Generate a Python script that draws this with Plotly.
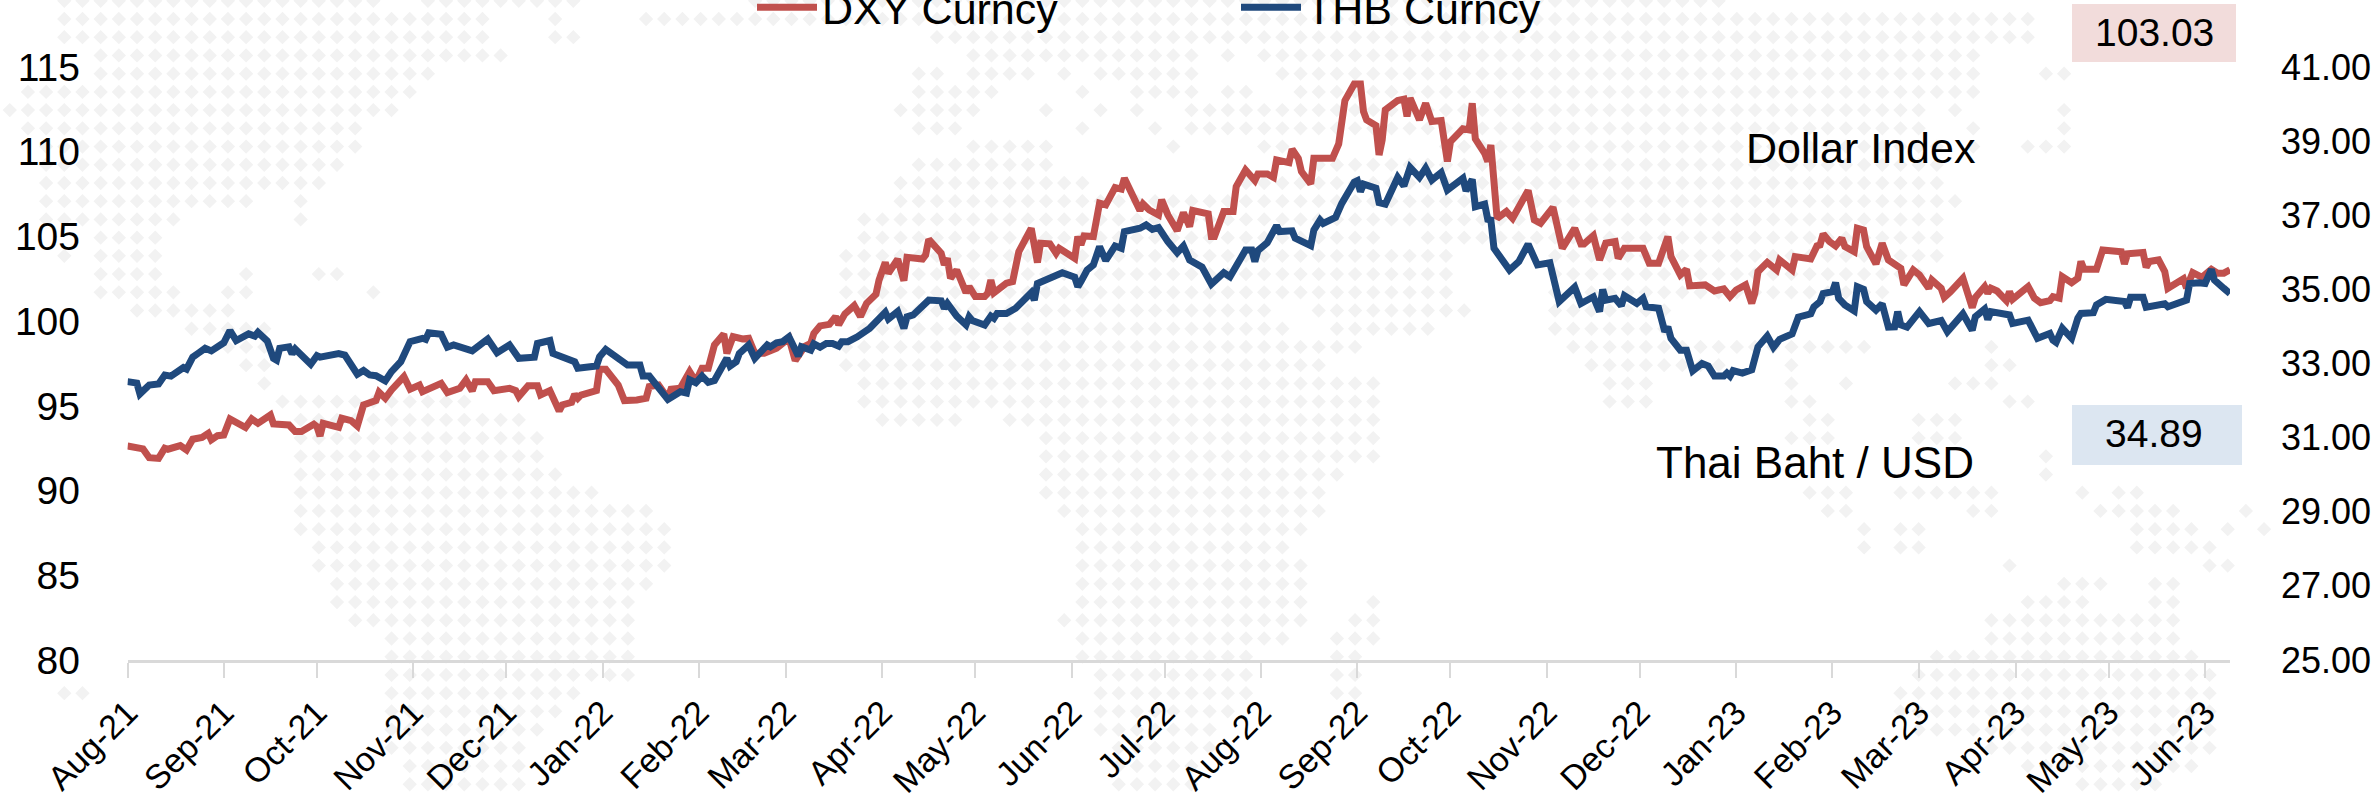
import datetime as dt
import plotly.graph_objects as go

START = dt.date(2021, 8, 1)

tick_labels = ["Aug-21","Sep-21","Oct-21","Nov-21","Dec-21","Jan-22","Feb-22","Mar-22","Apr-22","May-22","Jun-22","Jul-22",
               "Aug-22","Sep-22","Oct-22","Nov-22","Dec-22","Jan-23","Feb-23","Mar-23","Apr-23","May-23","Jun-23"]
tick_dates = ["2021-08-01","2021-09-01","2021-10-01","2021-11-01","2021-12-01","2022-01-01","2022-02-01","2022-03-01",
              "2022-04-01","2022-05-01","2022-06-01","2022-07-01","2022-08-01","2022-09-01","2022-10-01","2022-11-01",
              "2022-12-01","2023-01-01","2023-02-01","2023-03-01","2023-04-01","2023-05-01","2023-06-01"]

dxy_days = [0,5,7,10,12,13,17,19,21,24,26,27,29,31,33,38,40,42,46,47,52,54,56,60,61,62,63,66,68,69,72,74,76,80,81,83,85,89,91,94,95,
            101,103,107,109,111,112,116,118,123,125,126,129,132,133,136,139,140,143,144,145,146,151,152,154,158,160,164,
            167,168,171,174,175,178,181,183,185,187,189,192,193,195,198,200,202,205,209,213,215,218,220,221,223,226,228,229,231,234,236,238,241,242,244,245,248,250,251,256,257,258,260,262,263,264,265,267,270,271,273,276,277,278,279,283,285,287,291,293,294,297,299,300,305,306,307,308,311,313,315,318,320,321,326,327,329,332,333,
            335,338,340,342,343,348,349,350,353,356,357,360,363,364,367,369,370,374,375,377,378,381,382,388,390,392,395,397,398,399,402,403,404,405,409,411,412,413,416,418,420,423,425,426,430,432,433,434,437,438,439,441,444,446,451,453,455,459,462,466,468,469,472,474,476,479,480,482,488,490,493,496,497,500,
            502,503,508,511,514,516,518,521,523,524,525,528,531,532,536,537,542,544,545,546,548,550,552,553,556,557,559,560,563,565,567,571,572,575,577,580,581,584,585,587,591,594,595,598,599,600,602,605,606,607,612,614,616,619,620,622,623,626,628,629,630,634,636,642,643,644,649,650,651,654,656,657,662,663,665,668,671,673,675,677]
dxy_values = [92.63,92.46,91.94,91.90,92.50,92.44,92.65,92.40,93.03,93.14,93.38,92.99,93.24,93.28,94.23,93.72,94.23,93.97,94.46,93.93,93.87,93.48,93.48,93.91,93.77,93.22,93.97,93.77,93.73,94.27,94.13,93.81,95.05,95.31,95.80,95.45,95.94,96.73,95.98,96.23,95.84,
              96.33,95.78,96.04,96.53,95.88,96.43,96.43,95.90,96.04,95.90,95.55,96.19,96.19,95.64,95.90,94.70,95.05,95.21,95.68,95.45,95.64,95.90,97.16,97.16,96.23,95.31,95.35,
              95.45,96.14,96.23,95.45,95.98,96.04,97.02,96.43,97.22,97.22,98.60,99.24,98.10,99.09,98.95,98.99,98.10,98.10,98.40,98.99,97.67,98.50,98.69,99.28,99.72,99.81,100.27,99.78,100.43,100.92,100.27,101.05,101.59,102.43,103.46,102.83,103.65,102.39,103.77,103.67,103.91,104.83,104.40,104.01,103.32,103.71,102.53,103.02,101.68,102.04,101.45,101.45,101.65,102.43,101.68,102.24,102.33,104.10,105.48,103.46,104.60,104.56,104.01,104.30,103.71,104.99,104.50,105.03,104.99,106.96,106.86,107.88,107.79,108.43,106.53,106.92,106.56,106.27,107.16,
              106.27,105.34,106.41,105.58,106.53,106.33,104.99,104.99,106.47,106.47,107.94,108.92,108.30,108.69,108.69,108.49,109.52,109.36,110.15,109.61,108.83,108.10,109.61,109.61,110.46,113.02,114.00,114.00,112.37,111.88,111.54,109.81,110.70,112.47,113.02,113.10,112.08,113.16,111.88,112.86,111.78,111.84,109.42,110.60,111.35,111.29,112.86,110.76,109.91,109.42,110.40,106.07,106.47,106.07,107.71,105.97,105.78,106.72,104.30,105.48,104.56,104.56,105.05,103.61,104.60,104.70,103.71,104.30,104.30,103.42,103.42,104.99,103.81,102.73,
              103.06,102.08,102.14,101.78,101.90,101.45,101.84,102.14,101.05,101.65,102.92,103.47,103.02,103.61,103.02,103.81,103.67,104.44,104.50,105.15,104.70,104.44,104.89,104.40,104.10,105.48,105.38,104.40,103.38,104.60,103.61,103.12,102.14,103.02,102.73,101.94,102.43,101.94,101.41,101.74,102.53,100.80,101.40,102.04,101.65,101.94,101.78,101.21,101.74,101.29,102.04,101.36,101.09,101.21,101.45,101.36,102.63,102.27,102.53,103.52,103.06,103.06,104.20,104.10,103.38,103.97,104.05,103.18,103.52,103.61,102.92,101.94,102.50,101.95,102.87,102.59,103.06,102.83,102.83,103.03]

thb_days = [0,3,4,7,10,12,14,18,19,21,23,25,27,31,33,35,39,41,42,45,47,48,49,52,53,54,59,61,62,68,70,74,76,78,80,83,85,88,91,95,96,97,101,103,105,109,111,116,119,123,126,131,132,136,137,144,145,151,152,154,158,161,165,
            166,168,174,178,180,181,183,185,187,189,193,194,196,197,200,202,206,207,209,211,213,216,217,220,221,223,225,227,229,230,232,235,236,239,244,245,248,249,250,251,253,258,262,263,264,267,270,271,272,276,278,279,280,283,286,291,292,293,298,301,305,306,307,309,311,313,315,318,320,321,326,328,330,332,
            335,338,340,342,346,349,353,355,360,362,363,364,367,370,371,375,376,381,382,384,385,389,391,395,396,397,398,402,403,405,409,411,413,416,418,420,423,425,430,431,433,434,437,438,439,440,445,448,451,454,458,461,466,468,472,474,475,476,479,481,482,486,488,489,493,495,496,497,500,
            502,504,507,509,511,514,515,516,517,520,523,525,528,530,532,536,538,542,543,545,546,549,550,551,553,556,557,559,560,563,565,567,569,570,571,573,577,580,584,586,591,594,595,598,599,600,606,607,612,615,619,620,621,623,626,628,629,633,634,637,643,644,645,649,650,656,657,663,664,667,669,671,672,675,677]
thb_values = [32.51,32.47,32.18,32.42,32.45,32.69,32.66,32.89,32.85,33.17,33.29,33.41,33.34,33.56,33.89,33.62,33.80,33.74,33.84,33.61,33.14,33.09,33.41,33.45,33.26,33.39,32.98,33.21,33.17,33.27,33.23,32.71,32.81,32.69,32.67,32.53,32.78,33.05,33.59,33.68,33.65,33.83,33.79,33.44,33.50,33.38,33.34,33.66,33.29,33.50,33.14,33.17,33.54,33.62,33.27,33.05,32.87,32.93,33.18,33.38,33.14,32.96,32.96,
              32.66,32.66,32.03,32.24,32.20,32.56,32.48,32.66,32.49,32.54,33.14,32.93,33.05,33.27,33.50,33.14,33.50,33.45,33.56,33.59,33.72,33.20,33.45,33.36,33.53,33.44,33.54,33.54,33.47,33.59,33.59,33.72,33.77,33.95,34.38,34.20,34.40,34.22,33.95,34.26,34.31,34.71,34.69,34.49,34.62,34.28,34.04,34.26,34.16,34.04,34.28,34.22,34.35,34.35,34.49,34.91,34.71,35.16,35.33,35.45,35.33,35.07,35.21,35.52,35.66,36.15,35.78,36.17,36.11,36.56,36.65,36.74,36.62,36.67,
              36.29,35.99,36.17,35.79,35.60,35.14,35.45,35.34,36.06,36.06,35.75,36.05,36.26,36.72,36.56,36.58,36.38,36.18,36.60,36.87,36.78,36.94,37.32,37.89,37.93,37.64,37.84,37.73,37.34,37.30,38.02,37.79,38.29,38.02,38.27,37.95,38.15,37.68,38.00,37.66,37.97,37.23,37.30,36.89,36.87,36.11,35.52,35.75,36.22,35.66,35.72,34.67,35.06,34.62,34.80,34.40,35.00,34.71,34.76,34.56,34.83,34.62,34.76,34.53,34.49,33.86,33.99,33.68,33.36,
              33.36,32.80,33.00,32.93,32.66,32.66,32.74,32.66,32.81,32.74,32.83,33.45,33.74,33.44,33.65,33.80,34.25,34.34,34.53,34.67,34.89,34.94,35.18,34.76,34.58,34.42,35.07,35.00,34.67,34.44,34.61,33.98,33.99,34.40,34.04,33.98,34.40,34.08,34.16,33.86,34.34,33.90,34.26,34.47,34.19,34.40,34.31,34.08,34.17,33.68,33.81,33.63,33.57,33.95,33.68,34.22,34.35,34.37,34.58,34.73,34.67,34.51,34.79,34.79,34.52,34.61,34.53,34.71,35.16,35.18,35.16,35.54,35.25,35.03,34.89]

left_ticks = [80, 85, 90, 95, 100, 105, 110, 115]
right_ticks = [25, 27, 29, 31, 33, 35, 37, 39, 41]

# Decorative dotted world map behind the chart: row -> spans of dots
map_rows = {
 -1:[(40,250),(280,380),(500,1130)],0:[(40,320),(365,365),(430,1340)],1:[(40,320),(365,378),(615,1340)],
 2:[(65,330),(640,790),(808,808),(830,1305)],3:[(65,285),(605,620),(640,680),(702,702),(725,785),(845,1305),(1345,1360)],
 4:[(15,272),(605,655),(713,713),(750,785),(808,822),(855,1305)],5:[(5,260),(595,642),(690,690),(725,725),(750,750),(785,1270),(1290,1290),(1360,1360)],
 6:[(15,237),(605,630),(713,713),(762,762),(785,1270),(1295,1295),(1360,1360)],7:[(28,237),(640,690),(773,773),(835,850),(950,1275),(1305,1305),(1340,1360)],
 8:[(28,225),(605,690),(875,1280)],9:[(28,212),(595,715),(820,1280)],10:[(28,165),(198,198),(595,1290)],
 11:[(28,118),(198,198),(570,1280)],12:[(65,105),(570,910),(940,1280)],13:[(40,40),(65,105),(558,955),(1020,1280)],
 14:[(65,105),(160,160),(210,222),(558,955),(1020,1265)],15:[(65,115),(150,162),(245,245),(558,955),(1020,1240)],
 16:[(88,150),(570,835),(870,970),(1020,1095)],17:[(125,175),(570,850),(880,945),(1030,1095)],18:[(150,175),(558,895),(1035,1230),(1310,1310)],
 19:[(160,175),(558,875),(1045,1130),(1180,1180),(1310,1325)],20:[(175,175),(570,910),(1055,1085),(1180,1180),(1215,1215),(1285,1310)],
 21:[(185,310),(570,910),(1055,1085),(1180,1192),(1320,1335)],22:[(200,345),(580,630),(665,910),(1190,1205),(1262,1290)],
 23:[(200,355),(690,910),(1180,1205),(1262,1290)],24:[(195,355),(690,910),(1345,1345)],25:[(195,368),(690,885),(1345,1345)],
 26:[(195,392),(690,872),(1190,1215),(1250,1315),(1370,1370),(1395,1410)],27:[(195,430),(700,872),(1202,1215),(1300,1312),(1385,1435),(1480,1480)],
 28:[(195,440),(712,860),(1225,1225),(1250,1265),(1408,1445),(1468,1468),(1490,1490)],29:[(207,440),(712,850),(1225,1225),(1250,1265),(1408,1455)],
 30:[(207,440),(712,860),(1322,1322),(1455,1468)],31:[(220,430),(712,860),(1360,1385),(1420,1432)],32:[(220,418),(712,860),(905,905),(1335,1372),(1420,1432)],
 33:[(232,418),(700,860),(890,905),(1310,1435)],34:[(257,418),(712,850),(880,905),(1310,1435)],35:[(257,418),(712,825),(880,893),(1275,1445)],
 36:[(257,418),(725,825),(880,893),(1262,1458)],37:[(40,55),(257,380),(725,825),(880,893),(1250,1458)],38:[(257,370),(725,815),(1250,1458)],
 39:[(257,350),(725,800),(1262,1458)],40:[(257,345),(735,800),(1310,1458)],41:[(270,345),(735,790),(1335,1445)],42:[(270,345),(735,780),(1370,1420)],
}
dot_x, dot_y = [], []
for row, spans in map_rows.items():
    for a, b in spans:
        for col in range(round((a - 42.4) / 11.98), round((b - 42.4) / 11.98) + 1):
            dot_x.append(64.3 + 18.18 * col)
            dot_y.append(19 + 18.22 * row)

def dates(days):
    return [START + dt.timedelta(days=d) for d in days]

W, H = 2379, 797
AX_L, AX_R, AX_T, AX_B = 127.5, 2230, 67, 660
FONT = "Liberation Sans"

fig = go.Figure()
fig.add_trace(go.Scatter(x=dot_x, y=dot_y, mode="markers", xaxis="x", yaxis="y", showlegend=False, hoverinfo="skip",
                         marker=dict(symbol="diamond", size=11, color="#F2F2F2", line_width=0)))
fig.add_trace(go.Scatter(x=dates(dxy_days), y=dxy_values, name="DXY Curncy", mode="lines", xaxis="x2", yaxis="y2",
                         line=dict(color="#C0504D", width=7)))
fig.add_trace(go.Scatter(x=dates(thb_days), y=thb_values, name="THB Curncy", mode="lines", xaxis="x2", yaxis="y3",
                         line=dict(color="#1F497D", width=7)))

def note(text, x, y, size):
    return dict(text=text, x=x, y=y, xref="x", yref="y", showarrow=False, xanchor="center", yanchor="middle",
                font=dict(family=FONT, size=size, color="black"))

fig.update_layout(
    width=W, height=H, autosize=False, paper_bgcolor="white", plot_bgcolor="rgba(0,0,0,0)",
    margin=dict(l=0, r=0, t=0, b=0, autoexpand=False),
    font=dict(family=FONT, size=36, color="black"),
    xaxis=dict(domain=[0, 1], range=[0, W], visible=False, fixedrange=True),
    yaxis=dict(domain=[0, 1], range=[H, 0], visible=False, fixedrange=True),
    xaxis2=dict(domain=[AX_L / W, AX_R / W], anchor="y2", type="date",
                range=[START, START + dt.timedelta(days=677)],
                tickmode="array", tickvals=tick_dates, ticktext=tick_labels, tickangle=-45,
                showgrid=False, zeroline=False, showline=True, linecolor="#D9D9D9", linewidth=3,
                ticks="outside", ticklen=15, tickcolor="#D9D9D9", tickwidth=2, ticklabelstandoff=1,
                tickfont=dict(family=FONT, size=34)),
    yaxis2=dict(domain=[(H - AX_B) / H, (H - AX_T) / H], anchor="free", position=80 / W, range=[80, 115],
                tickmode="array", tickvals=left_ticks, showgrid=False, zeroline=False, showline=False, ticks="",
                tickfont=dict(family=FONT, size=39)),
    yaxis3=dict(domain=[(H - AX_B) / H, (H - AX_T) / H], anchor="free", overlaying="y2", side="right",
                position=2280 / W, range=[25, 41], tickmode="array", tickvals=right_ticks, tickformat=".2f",
                showgrid=False, zeroline=False, showline=False, ticks="",
                tickfont=dict(family=FONT, size=36)),
    showlegend=True,
    legend=dict(orientation="h", x=752 / W, xanchor="left", y=1.034, yanchor="top", itemwidth=60, entrywidth=409,
                entrywidthmode="pixels", bgcolor="rgba(0,0,0,0)", font=dict(family=FONT, size=43), traceorder="normal"),
    shapes=[
        dict(type="rect", xref="x", yref="y", x0=2072, x1=2236, y0=4, y1=62, fillcolor="#F2DCDB", line_width=0),
        dict(type="rect", xref="x", yref="y", x0=2072, x1=2242, y0=405, y1=465, fillcolor="#DCE6F1", line_width=0),
    ],
    annotations=[
        note("103.03", 2154, 32, 39),
        note("34.89", 2154, 433, 39),
        note("Dollar Index", 1861, 148, 43),
        note("Thai Baht / USD", 1815, 462, 44),
    ],
)
fig.write_html("out.html", config={"displayModeBar": False}, post_script="document.body.style.margin='0';")
